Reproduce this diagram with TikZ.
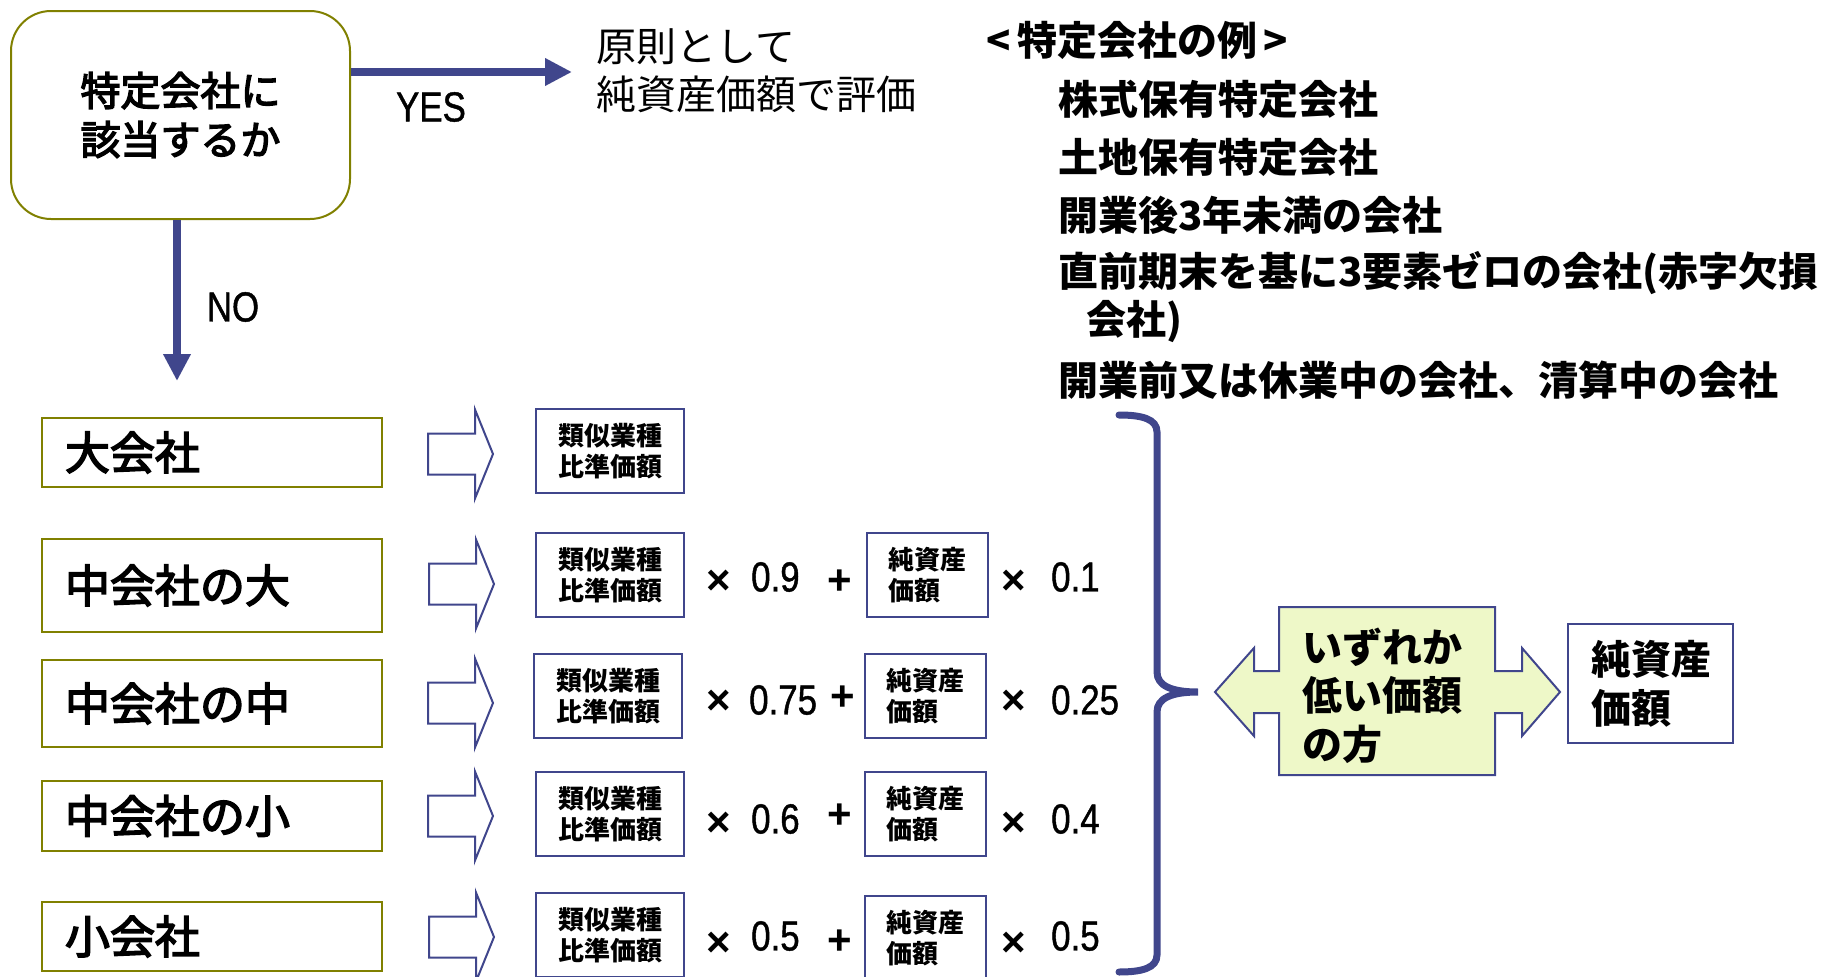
\documentclass[tikz,border=0pt]{standalone}
\usepackage{fontspec}
\setmainfont{Noto Sans CJK JP}
\newfontfamily\jpmed{Noto Sans CJK JP}[FakeBold=3.5]
\newfontfamily\lat{Liberation Sans}[FakeStretch=0.83,FakeBold=1]
\newfontfamily\latx{Liberation Sans}
\usetikzlibrary{arrows.meta}
\definecolor{navyb}{RGB}{64,70,140}
\definecolor{oliveb}{RGB}{128,128,0}
\definecolor{paleg}{RGB}{238,248,200}
\newcommand\myfs[2]{\fontsize{#1pt}{#2pt}\selectfont}
\tikzset{
  conn/.style={draw=navyb, line width=8pt, -{Triangle[length=27pt,width=26pt]}},
  qbox/.style={draw=oliveb, line width=2pt, rounded corners=40pt, minimum width=339pt, minimum height=208pt, inner sep=0pt, align=center, font=\jpmed\myfs{40}{49}},
  cbox/.style={draw=oliveb, line width=2.5pt, minimum width=340pt, text width=294pt, inner xsep=23pt, inner ysep=0pt, align=left, font=\jpmed\myfs{45}{54}},
  vbox/.style={draw=navyb, line width=2pt, fill=white, minimum width=148pt, minimum height=84pt, inner sep=0pt, align=center, font=\bfseries\myfs{26}{31}},
  nbox/.style={draw=navyb, line width=2pt, fill=white, minimum width=121pt, minimum height=84pt, text width=78pt, inner xsep=21.5pt, inner ysep=0pt, align=left, font=\bfseries\myfs{26}{31}},
  op/.style={inner sep=0pt, font=\latx\bfseries\myfs{42}{42}},
  num/.style={inner sep=0pt, anchor=west, font=\lat\myfs{42}{42}},
  lbl/.style={inner sep=0pt, font=\lat\myfs{42}{42}},
  barrow/.style={draw=navyb, line width=2pt, fill=white},
  bracestyle/.style={draw=navyb, line width=7pt, line cap=round},
  lst/.style={inner sep=0pt, anchor=west, font=\bfseries\myfs{40}{48}},
  blockarrow/.pic={\draw[barrow] (0,-20.5) -- (47,-20.5) -- (47,-44.5) -- (65,0) -- (47,44.5) -- (47,20.5) -- (0,20.5) -- cycle;}
}
\begin{document}
\begin{tikzpicture}[x=1pt,y=-1pt]
\useasboundingbox (0,0) rectangle (1821,977);

% decision box
\node[qbox] (q) at (180.5,115) {特定会社に\\該当するか};
\coordinate (yesend) at (572,72);
\draw[conn] (q.east |- yesend) -- (yesend);
\node[lbl] (yes) at (431,107) {YES};
\coordinate (noend) at (177,381);
\draw[conn] (q.south -| noend) -- (noend);
\node[lbl] (no) at (233,307) {NO};

\node[inner sep=0pt, anchor=west, align=left, font=\myfs{40}{48}] (rule) at (596,71) {原則として\\純資産価額で評価};

% list of examples
\node[lst] (l0) at (986,40) {<\,特定会社の例\,>};
\node[lst] (l1) at (1058,99) {株式保有特定会社};
\node[lst] (l2) at (1058,157) {土地保有特定会社};
\node[lst] (l3) at (1058,215) {開業後3年未満の会社};
\node[lst] (l4) at (1058,273) {直前期末を基に3要素ゼロの会社(赤字欠損};
\node[lst] (l5) at (1086,322) {会社)};
\node[lst] (l6) at (1058,380) {開業前又は休業中の会社、清算中の会社};

% company boxes
\node[cbox, minimum height=69pt] (c1) at (212,452.5) {大会社};
\node[cbox, minimum height=93pt] (c2) at (212,585.5) {中会社の大};
\node[cbox, minimum height=87pt] (c3) at (212,703.5) {中会社の中};
\node[cbox, minimum height=70pt] (c4) at (212,816) {中会社の小};
\node[cbox, minimum height=69pt] (c5) at (212,936.5) {小会社};

% block arrows
\pic (ba1) at (428,454) {blockarrow};
\pic (ba2) at (429,584) {blockarrow};
\pic (ba3) at (428,703) {blockarrow};
\pic (ba4) at (428,816) {blockarrow};
\pic (ba5) at (429,937) {blockarrow};

% value boxes
\node[vbox] (v1) at (610,451) {類似業種\\比準価額};
\node[vbox] (v2) at (610,575) {類似業種\\比準価額};
\node[vbox] (v3) at (608,696) {類似業種\\比準価額};
\node[vbox] (v4) at (610,814) {類似業種\\比準価額};
\node[vbox] (v5) at (610,935) {類似業種\\比準価額};
\node[nbox] (n2) at (927.5,575) {純資産\\価額};
\node[nbox] (n3) at (925.5,696) {純資産\\価額};
\node[nbox] (n4) at (925.5,814) {純資産\\価額};
\node[nbox] (n5) at (925,938) {純資産\\価額};

% operators and factors
\node[op] (x2a) at (718.5,582) {×};
\node[num] (m2a) at (751,577) {0.9};
\node[op] (p2) at (840,582) {+};
\node[op] (x2b) at (1013.5,582) {×};
\node[num] (m2b) at (1051,577) {0.1};

\node[op] (x3a) at (718.5,702) {×};
\node[num] (m3a) at (749,700) {0.75};
\node[op] (p3) at (843,698) {+};
\node[op] (x3b) at (1013.5,702) {×};
\node[num] (m3b) at (1051,700) {0.25};

\node[op] (x4a) at (718.5,824) {×};
\node[num] (m4a) at (751,819) {0.6};
\node[op] (p4) at (840,816) {+};
\node[op] (x4b) at (1013.5,824) {×};
\node[num] (m4b) at (1051,819) {0.4};

\node[op] (x5a) at (718.5,944) {×};
\node[num] (m5a) at (751,936) {0.5};
\node[op] (p5) at (840,942) {+};
\node[op] (x5b) at (1013.5,944) {×};
\node[num] (m5b) at (1051,936) {0.5};

% brace
\draw[bracestyle] (1119,415) .. controls (1142,415) and (1157,419) .. (1157,432) -- (1157,672) .. controls (1157,686) and (1172,692) .. (1198,692) .. controls (1172,692) and (1157,698) .. (1157,712) -- (1157,955) .. controls (1157,968) and (1142,972) .. (1119,972);

% double arrow
\draw[draw=navyb, line width=2pt, fill=paleg] (1215,692) -- (1254,648) -- (1254,671) -- (1279,671) -- (1279,607) -- (1495,607) -- (1495,671) -- (1522,671) -- (1522,648) -- (1560,692) -- (1522,736) -- (1522,713) -- (1495,713) -- (1495,775) -- (1279,775) -- (1279,713) -- (1254,713) -- (1254,736) -- cycle;
\node[inner sep=0pt, anchor=west, align=left, font=\bfseries\myfs{40}{48.5}] (low) at (1302,695.5) {いずれか\\低い価額\\の方};

% result box
\node[draw=navyb, line width=2pt, fill=white, minimum width=165pt, minimum height=119pt, text width=119pt, inner xsep=23pt, inner ysep=0pt, align=left, font=\bfseries\myfs{40}{49}] (nv) at (1650.5,683.5) {純資産\\価額};
\end{tikzpicture}
\end{document}
